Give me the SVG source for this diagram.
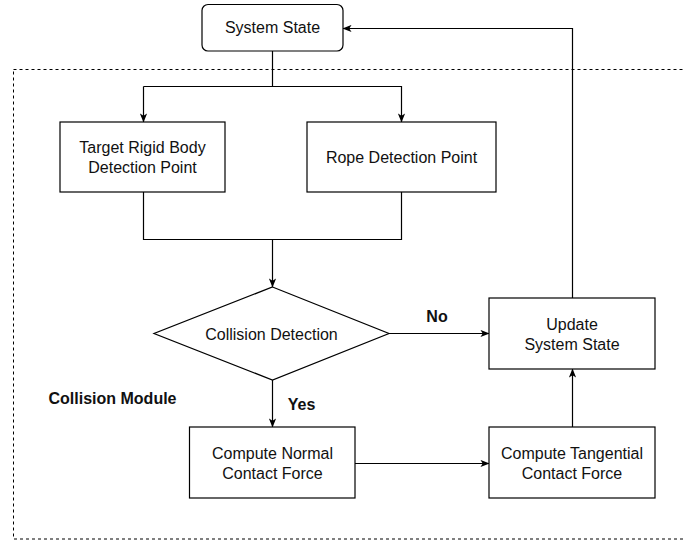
<svg xmlns="http://www.w3.org/2000/svg" width="685" height="541" viewBox="0 0 685 541">
  <defs>
    <marker id="arrow" viewBox="0 0 10 8" refX="9.5" refY="4" markerWidth="9" markerHeight="8" markerUnits="userSpaceOnUse" orient="auto">
      <path d="M0,0 L10,4 L0,8 L2.5,4 z" fill="#000"/>
    </marker>
  </defs>
  <style>
    .box { fill: #fff; stroke: #000; stroke-width: 1.2; }
    .edge { fill: none; stroke: #000; stroke-width: 1.2; }
    .arr { marker-end: url(#arrow); }
    .lbl { font-family: "Liberation Sans", Arial, Helvetica, sans-serif; font-size: 16px; fill: #111; text-anchor: middle; }
    .bold { font-weight: bold; }
    .frame { fill: none; stroke: #000; stroke-width: 1; stroke-dasharray: 3 3; }
  </style>

  <rect width="685" height="541" fill="#fff"/>

  <!-- module frame -->
  <g id="collision-module">
    <rect class="frame" x="13.5" y="69.5" width="700" height="469.5"/>
    <text class="lbl bold" x="112.5" y="404">Collision Module</text>
  </g>

  <!-- connectors -->
  <g id="connectors">
    <path class="edge" d="M272.5,51 V86.5 H143.5"/>
    <path class="edge arr" d="M143.5,86.5 V122"/>
    <path class="edge arr" d="M272.5,86.5 H401.5 V122"/>
    <path class="edge" d="M143.5,192 V239.5 H401.5 V192"/>
    <path class="edge arr" d="M272.5,239.5 V287"/>
    <path class="edge arr" d="M389,333.5 H489"/>
    <path class="edge arr" d="M272.5,380 V427"/>
    <path class="edge arr" d="M355,463.5 H489"/>
    <path class="edge arr" d="M572.5,427 V369"/>
    <path class="edge arr" d="M572.5,298 V28.5 H343"/>
    <text class="lbl bold" x="437" y="321.5">No</text>
    <text class="lbl bold" x="301.5" y="410">Yes</text>
  </g>

  <g id="system-state">
    <rect class="box" x="202" y="4.5" width="141" height="46.5" rx="6" ry="6"/>
    <text class="lbl" x="272.5" y="33">System State</text>
  </g>

  <g id="rigid-body-point">
    <rect class="box" x="60" y="122" width="165" height="70"/>
    <text class="lbl" x="142.5" y="153">Target Rigid Body</text>
    <text class="lbl" x="142.5" y="173">Detection Point</text>
  </g>

  <g id="rope-point">
    <rect class="box" x="307" y="122" width="189" height="70"/>
    <text class="lbl" x="401.5" y="163">Rope Detection Point</text>
  </g>

  <g id="collision-detection">
    <polygon class="box" points="272.5,287 389,333.5 272.5,380 154,333.5"/>
    <text class="lbl" x="271.5" y="339.5">Collision Detection</text>
  </g>

  <g id="update-state">
    <rect class="box" x="489" y="298" width="166" height="71"/>
    <text class="lbl" x="572" y="330">Update</text>
    <text class="lbl" x="572" y="350">System State</text>
  </g>

  <g id="normal-force">
    <rect class="box" x="189.5" y="427" width="165.5" height="71"/>
    <text class="lbl" x="272.5" y="459">Compute Normal</text>
    <text class="lbl" x="272.5" y="479">Contact Force</text>
  </g>

  <g id="tangential-force">
    <rect class="box" x="489" y="427" width="166" height="71"/>
    <text class="lbl" x="572" y="459">Compute Tangential</text>
    <text class="lbl" x="572" y="479">Contact Force</text>
  </g>
</svg>
